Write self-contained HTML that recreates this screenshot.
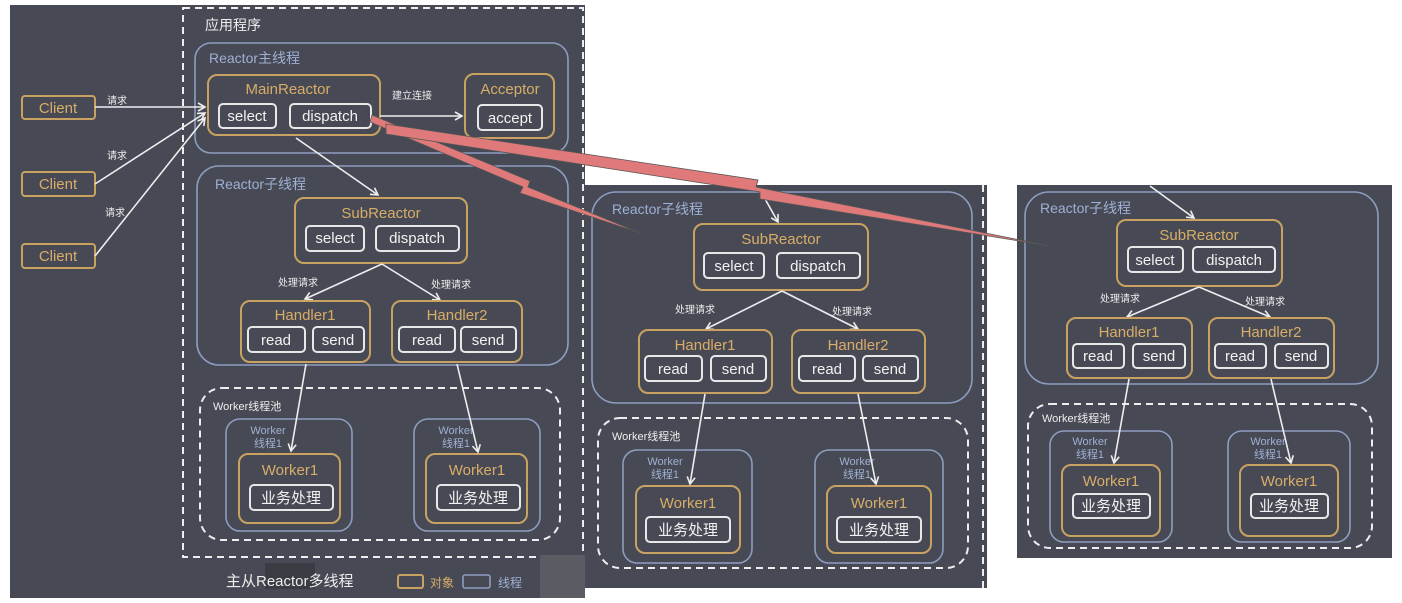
<!DOCTYPE html>
<html><head><meta charset="utf-8"><style>
html,body{margin:0;padding:0;background:#fff;}
svg{display:block;font-family:"Liberation Sans","Noto Sans CJK SC",sans-serif;}
.o{fill:none;stroke:#c9a262;stroke-width:2;}
.b{fill:none;stroke:#8d9dc0;stroke-width:1.6;}
.w{fill:none;stroke:#e8e8e8;stroke-width:2;}
.d{fill:none;stroke:#eee;stroke-width:2;stroke-dasharray:7 5;}
.ot{fill:#d9ad68;font-size:15px;text-anchor:middle;}
.wt{fill:#f2f2f2;font-size:15px;text-anchor:middle;}
.bt{fill:#9fb0d4;font-size:14px;}
.sm{fill:#eee;font-size:10px;}
.bs{fill:#9fb0d4;font-size:11px;text-anchor:middle;}
.ln{stroke:#eee;stroke-width:1.6;fill:none;marker-end:url(#ah);}
</style></head><body>
<svg width="1402" height="603" viewBox="0 0 1402 603">
<defs><marker id="ah" markerWidth="10" markerHeight="10" refX="8" refY="5" orient="auto" markerUnits="userSpaceOnUse"><path d="M1,1 L8,5 L1,9" fill="none" stroke="#eee" stroke-width="1.6"/></marker></defs>
<rect x="0" y="0" width="1402" height="603" fill="#fff"/>
<!-- Panel 1 -->
<rect x="10" y="5" width="575" height="593" fill="#474a54"/>
<rect x="183" y="8" width="400" height="549" class="d"/>
<text x="205" y="30" fill="#eee" font-size="14">应用程序</text>
<rect x="195" y="43" width="373" height="110" rx="16" class="b"/>
<text x="209" y="63" class="bt">Reactor主线程</text>
<rect x="208" y="75" width="172" height="60" rx="9" class="o"/>
<text x="288" y="94" class="ot">MainReactor</text>
<rect x="219" y="104" width="57" height="24" rx="4" class="w"/><text x="247" y="121" class="wt">select</text>
<rect x="290" y="104" width="81" height="24" rx="4" class="w"/><text x="330" y="121" class="wt">dispatch</text>
<rect x="465" y="74" width="89" height="64" rx="9" class="o"/>
<text x="510" y="94" class="ot">Acceptor</text>
<rect x="478" y="105" width="64" height="25" rx="4" class="w"/><text x="510" y="123" class="wt">accept</text>
<text x="392" y="99" class="sm">建立连接</text>
<line x1="380" y1="116" x2="462" y2="116" class="ln"/>
<rect x="22" y="96" width="73" height="23" rx="3" class="o"/><text x="58" y="113" class="ot">Client</text>
<rect x="22" y="172" width="73" height="24" rx="3" class="o"/><text x="58" y="189" class="ot">Client</text>
<rect x="22" y="244" width="73" height="24" rx="3" class="o"/><text x="58" y="261" class="ot">Client</text>
<text x="107" y="104" class="sm">请求</text><text x="107" y="159" class="sm">请求</text><text x="105" y="216" class="sm">请求</text>
<line x1="95" y1="107" x2="205" y2="107" class="ln"/>
<line x1="95" y1="184" x2="205" y2="113" class="ln"/>
<line x1="95" y1="256" x2="205" y2="118" class="ln"/>
<rect x="197" y="166" width="371" height="199" rx="22" class="b"/>
<text x="215" y="189" class="bt">Reactor子线程</text>
<line x1="296" y1="138" x2="378" y2="195" class="ln"/>
<rect x="295" y="198" width="172" height="65" rx="9" class="o"/>
<text x="381" y="218" class="ot">SubReactor</text>
<rect x="306" y="226" width="58" height="25" rx="4" class="w"/><text x="335" y="243" class="wt">select</text>
<rect x="376" y="226" width="83" height="25" rx="4" class="w"/><text x="417" y="243" class="wt">dispatch</text>
<line x1="382" y1="264" x2="305" y2="299" class="ln"/>
<line x1="382" y1="264" x2="440" y2="300" class="ln"/>
<text x="278" y="286" class="sm">处理请求</text><text x="431" y="288" class="sm">处理请求</text>
<rect x="241" y="301" width="129" height="61" rx="9" class="o"/><text x="305" y="320" class="ot">Handler1</text>
<rect x="248" y="327" width="57" height="25" rx="4" class="w"/><text x="276" y="345" class="wt">read</text>
<rect x="313" y="327" width="51" height="25" rx="4" class="w"/><text x="338" y="345" class="wt">send</text>
<rect x="392" y="301" width="130" height="61" rx="9" class="o"/><text x="457" y="320" class="ot">Handler2</text>
<rect x="399" y="327" width="56" height="25" rx="4" class="w"/><text x="427" y="345" class="wt">read</text>
<rect x="461" y="327" width="55" height="25" rx="4" class="w"/><text x="488" y="345" class="wt">send</text>
<rect x="200" y="388" width="360" height="152" rx="22" class="d"/>
<text x="213" y="410" fill="#eee" font-size="11">Worker线程池</text>
<rect x="226" y="419" width="126" height="112" rx="14" class="b"/>
<text x="268" y="434" class="bs">Worker</text><text x="268" y="447" class="bs">线程1</text>
<rect x="239" y="454" width="101" height="69" rx="9" class="o"/><text x="290" y="475" class="ot">Worker1</text>
<rect x="250" y="485" width="83" height="25" rx="4" class="w"/><text x="291" y="503" class="wt" font-size="14">业务处理</text>
<rect x="414" y="419" width="126" height="112" rx="14" class="b"/>
<text x="456" y="434" class="bs">Worker</text><text x="456" y="447" class="bs">线程1</text>
<rect x="426" y="454" width="101" height="69" rx="9" class="o"/><text x="477" y="475" class="ot">Worker1</text>
<rect x="437" y="485" width="83" height="25" rx="4" class="w"/><text x="478" y="503" class="wt" font-size="14">业务处理</text>
<line x1="306" y1="364" x2="291" y2="451" class="ln"/>
<line x1="457" y1="364" x2="478" y2="452" class="ln"/>
<rect x="265" y="563" width="50" height="26" fill="#3a3c44"/>
<text x="226" y="586" fill="#eee" font-size="15">主从Reactor多线程</text>
<rect x="398" y="575" width="25" height="13" rx="2" class="o"/><text x="430" y="587" fill="#d9ad68" font-size="12">对象</text>
<rect x="463" y="575" width="27" height="13" rx="2" class="b"/><text x="498" y="587" fill="#9fb0d4" font-size="12">线程</text>
<rect x="540" y="555" width="45" height="43" fill="#5a5c63"/>
<!-- Panel 2 -->
<rect x="585" y="185" width="402" height="403" fill="#474a54"/>
<line x1="983" y1="185" x2="983" y2="588" stroke="#eee" stroke-width="2" stroke-dasharray="7 5"/>
<rect x="592" y="192" width="380" height="211" rx="24" class="b"/>
<text x="612" y="214" class="bt">Reactor子线程</text>
<rect x="694" y="224" width="174" height="66" rx="9" class="o"/><text x="781" y="244" class="ot">SubReactor</text>
<rect x="704" y="253" width="60" height="25" rx="4" class="w"/><text x="734" y="271" class="wt">select</text>
<rect x="777" y="253" width="83" height="25" rx="4" class="w"/><text x="818" y="271" class="wt">dispatch</text>
<line x1="760" y1="190" x2="778" y2="222" class="ln"/>
<line x1="782" y1="291" x2="706" y2="329" class="ln"/>
<line x1="782" y1="291" x2="858" y2="329" class="ln"/>
<text x="675" y="313" class="sm">处理请求</text><text x="832" y="315" class="sm">处理请求</text>
<rect x="639" y="330" width="133" height="63" rx="9" class="o"/><text x="705" y="350" class="ot">Handler1</text>
<rect x="645" y="356" width="57" height="25" rx="4" class="w"/><text x="673" y="374" class="wt">read</text>
<rect x="711" y="356" width="55" height="25" rx="4" class="w"/><text x="738" y="374" class="wt">send</text>
<rect x="792" y="330" width="133" height="63" rx="9" class="o"/><text x="858" y="350" class="ot">Handler2</text>
<rect x="799" y="356" width="56" height="25" rx="4" class="w"/><text x="827" y="374" class="wt">read</text>
<rect x="863" y="356" width="55" height="25" rx="4" class="w"/><text x="890" y="374" class="wt">send</text>
<rect x="598" y="418" width="370" height="150" rx="22" class="d"/>
<text x="612" y="440" fill="#eee" font-size="11">Worker线程池</text>
<rect x="623" y="450" width="129" height="113" rx="14" class="b"/>
<text x="665" y="465" class="bs">Worker</text><text x="665" y="478" class="bs">线程1</text>
<rect x="636" y="486" width="104" height="67" rx="9" class="o"/><text x="688" y="508" class="ot">Worker1</text>
<rect x="646" y="517" width="84" height="25" rx="4" class="w"/><text x="688" y="535" class="wt" font-size="14">业务处理</text>
<rect x="815" y="450" width="128" height="113" rx="14" class="b"/>
<text x="857" y="465" class="bs">Worker</text><text x="857" y="478" class="bs">线程1</text>
<rect x="827" y="486" width="104" height="67" rx="9" class="o"/><text x="879" y="508" class="ot">Worker1</text>
<rect x="837" y="517" width="84" height="25" rx="4" class="w"/><text x="879" y="535" class="wt" font-size="14">业务处理</text>
<line x1="705" y1="394" x2="690" y2="484" class="ln"/>
<line x1="858" y1="394" x2="876" y2="484" class="ln"/>
<!-- Panel 3 -->
<rect x="1017" y="185" width="375" height="373" fill="#474a54"/>
<rect x="1025" y="192" width="353" height="192" rx="24" class="b"/>
<text x="1040" y="213" class="bt">Reactor子线程</text>
<rect x="1117" y="220" width="165" height="66" rx="9" class="o"/><text x="1199" y="240" class="ot">SubReactor</text>
<rect x="1128" y="247" width="55" height="25" rx="4" class="w"/><text x="1155" y="265" class="wt">select</text>
<rect x="1193" y="247" width="82" height="25" rx="4" class="w"/><text x="1234" y="265" class="wt">dispatch</text>
<line x1="1150" y1="186" x2="1194" y2="218" class="ln"/>
<line x1="1199" y1="287" x2="1127" y2="317" class="ln"/>
<line x1="1199" y1="287" x2="1270" y2="317" class="ln"/>
<text x="1100" y="302" class="sm">处理请求</text><text x="1245" y="305" class="sm">处理请求</text>
<rect x="1067" y="318" width="125" height="60" rx="9" class="o"/><text x="1129" y="337" class="ot">Handler1</text>
<rect x="1073" y="344" width="51" height="24" rx="4" class="w"/><text x="1098" y="361" class="wt">read</text>
<rect x="1133" y="344" width="52" height="24" rx="4" class="w"/><text x="1159" y="361" class="wt">send</text>
<rect x="1209" y="318" width="125" height="60" rx="9" class="o"/><text x="1271" y="337" class="ot">Handler2</text>
<rect x="1215" y="344" width="51" height="24" rx="4" class="w"/><text x="1240" y="361" class="wt">read</text>
<rect x="1275" y="344" width="53" height="24" rx="4" class="w"/><text x="1301" y="361" class="wt">send</text>
<rect x="1028" y="404" width="344" height="144" rx="22" class="d"/>
<text x="1042" y="422" fill="#eee" font-size="11">Worker线程池</text>
<rect x="1050" y="431" width="122" height="111" rx="14" class="b"/>
<text x="1090" y="445" class="bs">Worker</text><text x="1090" y="458" class="bs">线程1</text>
<rect x="1062" y="465" width="98" height="71" rx="9" class="o"/><text x="1111" y="486" class="ot">Worker1</text>
<rect x="1073" y="494" width="77" height="24" rx="4" class="w"/><text x="1111" y="511" class="wt" font-size="14">业务处理</text>
<rect x="1228" y="431" width="122" height="111" rx="14" class="b"/>
<text x="1268" y="445" class="bs">Worker</text><text x="1268" y="458" class="bs">线程1</text>
<rect x="1240" y="465" width="98" height="71" rx="9" class="o"/><text x="1289" y="486" class="ot">Worker1</text>
<rect x="1251" y="494" width="77" height="24" rx="4" class="w"/><text x="1289" y="511" class="wt" font-size="14">业务处理</text>
<line x1="1129" y1="379" x2="1114" y2="463" class="ln"/>
<line x1="1271" y1="379" x2="1291" y2="463" class="ln"/>
<!-- red arrows -->
<polygon points="372,115 530,181 528,187 640,233 520,193 523,187 370,122" fill="#e07a7a" stroke="#555" stroke-width="0.8"/>
<polygon points="386,124 758,180 756,187 1050,246 760,199 760,192 386,134" fill="#e07a7a" stroke="#555" stroke-width="0.8"/>
</svg>
</body></html>
